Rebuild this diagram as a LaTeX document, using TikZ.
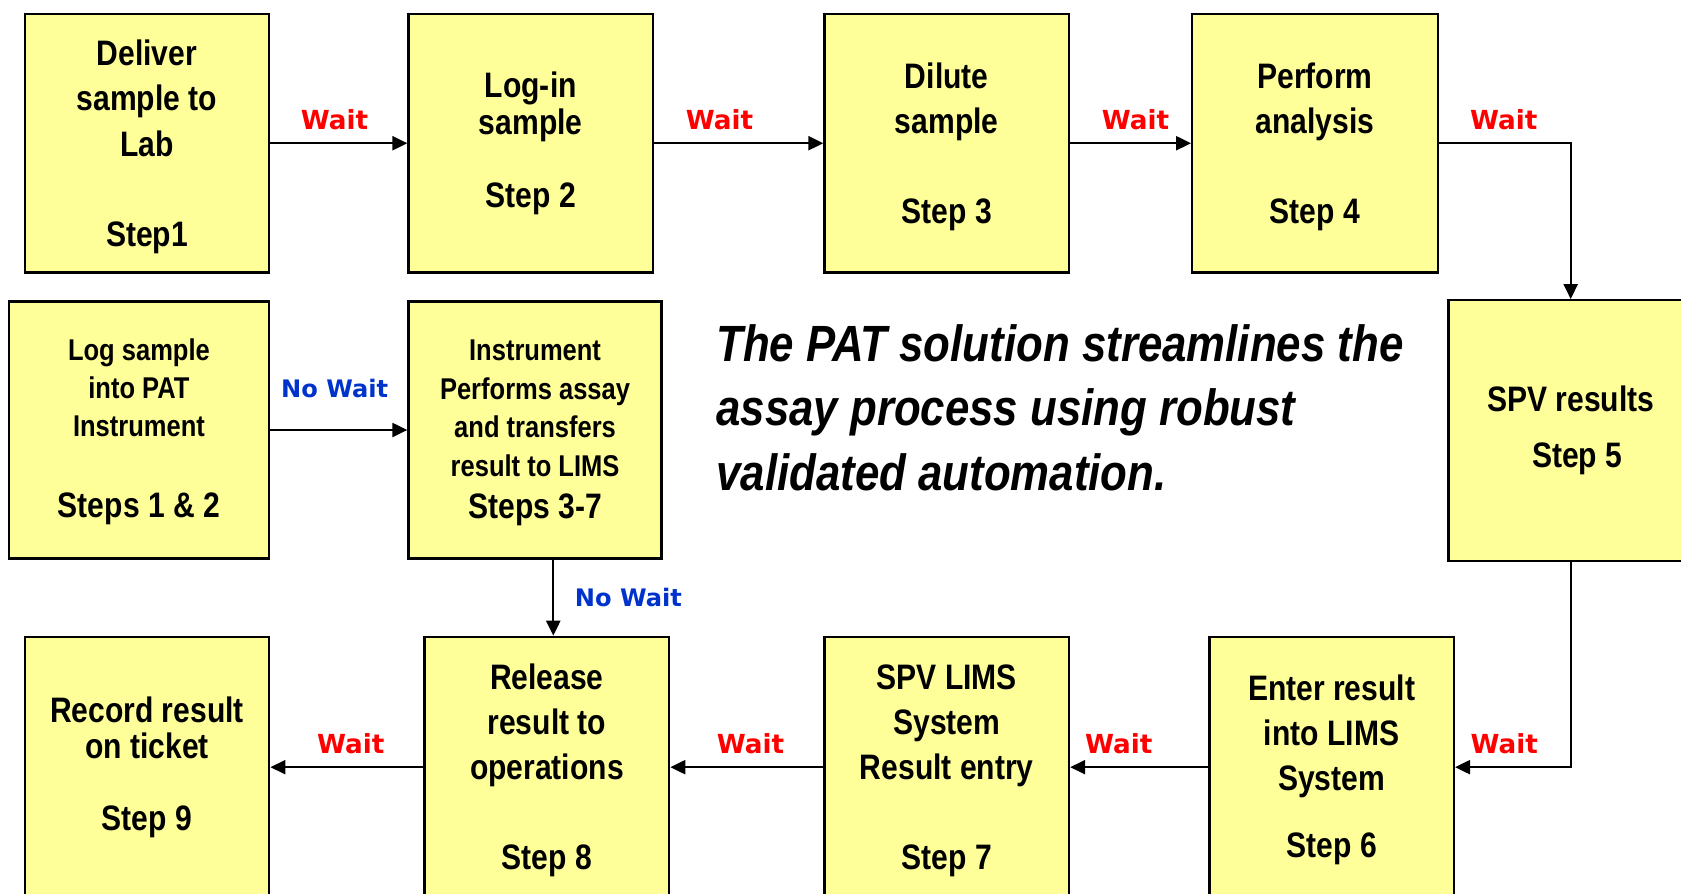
\documentclass[tikz,border=0pt]{standalone}
\usepackage{fontspec}
\usetikzlibrary{arrows.meta}
\newfontfamily\narrowsans[FakeStretch=0.85]{Liberation Sans}
\newfontfamily\slogansans[FakeStretch=0.86]{Liberation Sans}
\newfontfamily\labelsans{DejaVu Sans}
\definecolor{boxfill}{HTML}{FFFF99}
\definecolor{waitred}{HTML}{FF0000}
\definecolor{nowaitblue}{HTML}{0033CC}
% extra height above a first line moves a centred text block down by half of it
\newcommand\dropby[1]{\rule{0pt}{\dimexpr\fontcharht\font`l+#1\relax}}
% extra depth under a last line moves a centred text block up by half of it
\newcommand\raiseby[1]{\rule[-#1]{0pt}{#1}}

\begin{document}
\begin{tikzpicture}[x=1pt, y=-1pt,
  stepbox/.style={draw=black, line width=2.2pt, fill=boxfill, anchor=north west,
    inner sep=0pt, align=center, minimum width=228pt,
    font=\narrowsans\bfseries\fontsize{33}{42}\selectfont},
  tallrow/.style={minimum height=241pt},
  midrow/.style={minimum height=240pt},
  lowrow/.style={minimum height=243pt},
  conn/.style={draw=black, line width=2.2pt, -{Triangle[length=14pt,width=13pt]}},
  wait/.style={text=waitred, inner sep=0pt, anchor=base,
    font=\labelsans\bfseries\fontsize{24.5}{28}\selectfont},
  nowait/.style={text=nowaitblue, inner sep=0pt, anchor=base,
    font=\labelsans\bfseries\fontsize{22.5}{26}\selectfont},
  slogan/.style={inner sep=0pt, anchor=north west, align=left,
    font=\slogansans\bfseries\itshape\fontsize{47.5}{60}\selectfont}
]
\useasboundingbox (0,0) rectangle (1568,833);

% ---- manual process, top row ----
\node[stepbox, tallrow] (s1) at (22,12) {\dropby{8pt}Deliver\\sample to\\Lab\\[42pt]Step1};
\node[stepbox, tallrow, font=\narrowsans\bfseries\fontsize{33}{34.5}\selectfont]
  (s2) at (380,12) {Log-in\\sample\\[33pt]Step 2};
\node[stepbox, tallrow] (s3) at (768,12) {\dropby{8pt}Dilute\\sample\\[42pt]Step 3};
\node[stepbox, tallrow, minimum width=229pt] (s4) at (1111,12) {\dropby{8pt}Perform\\analysis\\[42pt]Step 4};

% ---- right column ----
\node[stepbox, minimum height=243pt] (s5) at (1350,279) {SPV results\\[10pt]\hspace*{12pt}Step 5\raiseby{4pt}};

% ---- manual process, bottom row ----
\node[stepbox, lowrow] (s6) at (1127,593) {\dropby{6pt}Enter result\\into LIMS\\System\\[20pt]Step 6};
\node[stepbox, lowrow] (s7) at (768,593) {\dropby{7pt}SPV LIMS\\System\\Result entry\\[42pt]Step 7};
\node[stepbox, lowrow] (s8) at (395,593) {\dropby{7pt}Release\\result to\\operations\\[42pt]Step 8};
\node[stepbox, lowrow, font=\narrowsans\bfseries\fontsize{33}{34}\selectfont]
  (s9) at (22,593) {Record result\\on ticket\\[33pt]Step 9};

% ---- PAT route ----
\node[stepbox, midrow, minimum width=243pt, font=\narrowsans\bfseries\fontsize{28}{35.5}\selectfont]
  (p12) at (7,280) {\dropby{4pt}Log sample\\into PAT\\Instrument\\[39.5pt]{\fontsize{33}{35.5}\selectfont Steps 1 \& 2}};
\node[stepbox, midrow, minimum width=236pt, font=\narrowsans\bfseries\fontsize{28}{36}\selectfont]
  (p37) at (380,280) {\dropby{5pt}Instrument\\Performs assay\\and transfers\\result to LIMS\\[3pt]{\fontsize{33}{36}\selectfont Steps 3-7}};

% ---- statement ----
\node[slogan] (msg) at (668,302.5) {The PAT solution streamlines the\\assay process using robust\\validated automation.};

% ---- connectors ----
\draw[conn] (s1.east) -- node[wait, pos=0.5, xshift=-4pt, yshift=13pt]{Wait} (s2.west);
\draw[conn] (s2.east) -- node[wait, pos=0.5, xshift=-18pt, yshift=13pt]{Wait} (s3.west);
\draw[conn] (s3.east) -- node[wait, pos=0.5, xshift=4.5pt, yshift=13pt]{Wait} (s4.west);
\draw[conn] (s4.east) -| node[wait, pos=0.25, xshift=-1pt, yshift=13pt]{Wait} (s5.north);
\draw[conn] (s5.south) |- node[wait, pos=0.75, xshift=-8pt, yshift=13pt]{Wait} (s6.east);
\draw[conn] (s6.west) -- node[wait, pos=0.5, xshift=-19pt, yshift=13pt]{Wait} (s7.east);
\draw[conn] (s7.west) -- node[wait, pos=0.5, xshift=3.5pt, yshift=13pt]{Wait} (s8.east);
\draw[conn] (s8.west) -- node[wait, pos=0.5, xshift=3.5pt, yshift=13pt]{Wait} (s9.east);
\draw[conn] (p12.east) -- node[nowait, pos=0.5, xshift=-4pt, yshift=30pt]{No Wait} (p37.west);
\draw[conn] ([xshift=17pt]p37.south) -- node[nowait, pos=0.61, anchor=base west, xshift=19pt]{No Wait}
  ([xshift=17pt]p37.south |- s8.north);
\end{tikzpicture}
\end{document}
